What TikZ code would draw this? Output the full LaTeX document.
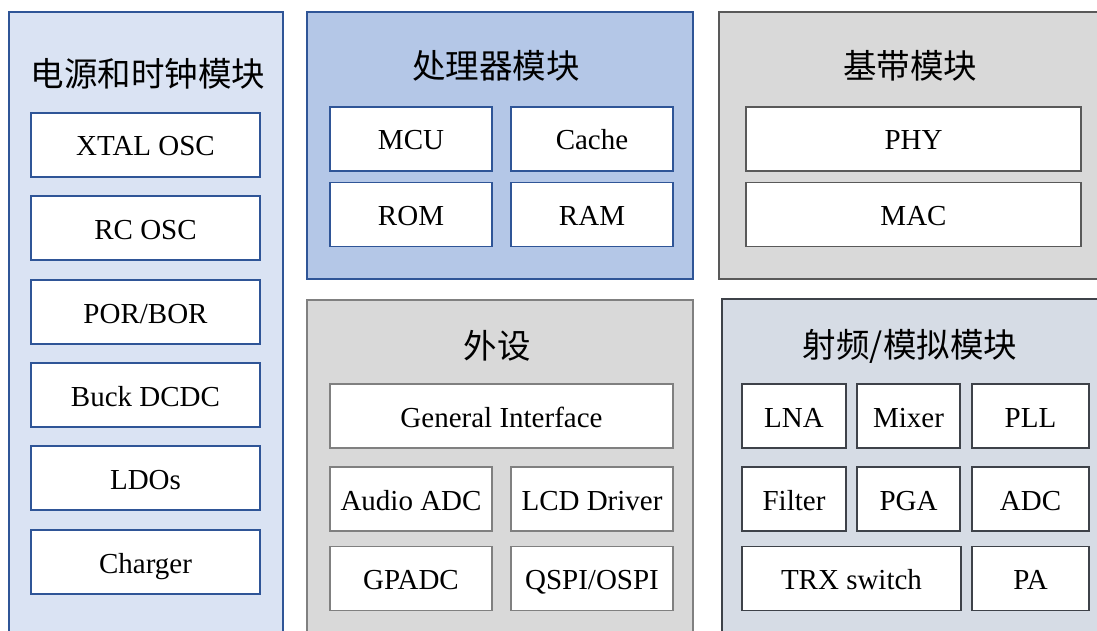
\documentclass[tikz,border=0pt]{standalone}
\usepackage{fontspec}
\setmainfont{Liberation Serif}
\newfontfamily\cjk{Noto Sans CJK SC}
\definecolor{pwrfill}{HTML}{DAE3F3}
\definecolor{bluedraw}{HTML}{2F5597}
\definecolor{cpufill}{HTML}{B4C7E7}
\definecolor{greyfill}{HTML}{D9D9D9}
\definecolor{bbdraw}{HTML}{595959}
\definecolor{perdraw}{HTML}{808080}
\definecolor{rffill}{HTML}{D6DCE5}
\definecolor{rfdraw}{HTML}{3E4249}
\begin{document}
\begin{tikzpicture}[x=1pt,y=-1pt,
  outerbox/.style={draw,line width=2pt,inner sep=0pt,rectangle},
  itembox/.style={draw,fill=white,line width=1.8pt,inner sep=0pt,rectangle,minimum height=64pt,
    text height=22pt,text depth=0pt,font=\fontsize{29}{32}\selectfont},
  titletext/.style={font=\cjk\fontsize{33.5}{38}\selectfont,inner sep=0pt}]
\clip (0,0) rectangle (1097,631);
\fill[white] (0,0) rectangle (1097,631);
% outer boxes
\node[outerbox,fill=pwrfill,draw=bluedraw,minimum width=274pt,minimum height=648pt] (pwr) at (146,336) {};
\node[outerbox,fill=cpufill,draw=bluedraw,minimum width=386pt,minimum height=267pt] (cpu) at (500,145.5) {};
\node[outerbox,fill=greyfill,draw=bbdraw,minimum width=401pt,minimum height=267pt] (bb) at (919.5,145.5) {};
\node[outerbox,fill=greyfill,draw=perdraw,minimum width=386pt,minimum height=360pt] (per) at (500,480) {};
\node[outerbox,fill=rffill,draw=rfdraw,minimum width=398pt,minimum height=361pt] (rf) at (921,479.5) {};
% titles
\node[titletext] (tpwr) at (148,74) {电源和时钟模块};
\node[titletext] (tcpu) at (496,66) {处理器模块};
\node[titletext] (tbb) at (910,66) {基带模块};
\node[titletext] (tper) at (497,346) {外设};
\node[titletext] (trf) at (910,346) {射频/模拟模块};
% power items
\begin{scope}[every node/.append style={itembox,draw=bluedraw,minimum width=229pt}]
\node (xtal) at (145.5,145) {XTAL OSC};
\node (rcosc) at (145.5,228) {RC OSC};
\node (por) at (145.5,312) {POR/BOR};
\node (buck) at (145.5,395) {Buck DCDC};
\node (ldo) at (145.5,478) {LDOs};
\node (chg) at (145.5,562) {Charger};
\end{scope}
% cpu items
\begin{scope}[every node/.append style={itembox,draw=bluedraw,minimum width=162pt}]
\node (mcu) at (411,139) {MCU};
\node (cache) at (592,139) {Cache};
\node (rom) at (411,214.5) {ROM};
\node (ram) at (592,214.5) {RAM};
\end{scope}
% baseband items
\begin{scope}[every node/.append style={itembox,draw=bbdraw,minimum width=335pt}]
\node (phy) at (913.5,139) {PHY};
\node (mac) at (913.5,214.5) {MAC};
\end{scope}
% peripheral items
\begin{scope}[every node/.append style={itembox,draw=perdraw}]
\node[minimum width=343pt] (gi) at (501.5,416) {General Interface};
\node[minimum width=162pt] (aadc) at (411,499) {Audio ADC};
\node[minimum width=162pt] (lcd) at (592,499) {LCD Driver};
\node[minimum width=162pt] (gpadc) at (411,578.5) {GPADC};
\node[minimum width=162pt] (qspi) at (592,578.5) {QSPI/OSPI};
\end{scope}
% rf items
\begin{scope}[every node/.append style={itembox,draw=rfdraw}]
\node[minimum width=104pt] (lna) at (794,416) {LNA};
\node[minimum width=103pt] (mixer) at (908.5,416) {Mixer};
\node[minimum width=117pt] (pll) at (1030.5,416) {PLL};
\node[minimum width=104pt] (filter) at (794,499) {Filter};
\node[minimum width=103pt] (pga) at (908.5,499) {PGA};
\node[minimum width=117pt] (adc) at (1030.5,499) {ADC};
\node[minimum width=219pt] (trx) at (851.5,578.5) {TRX switch};
\node[minimum width=117pt] (pa) at (1030.5,578.5) {PA};
\end{scope}
\end{tikzpicture}
\end{document}
